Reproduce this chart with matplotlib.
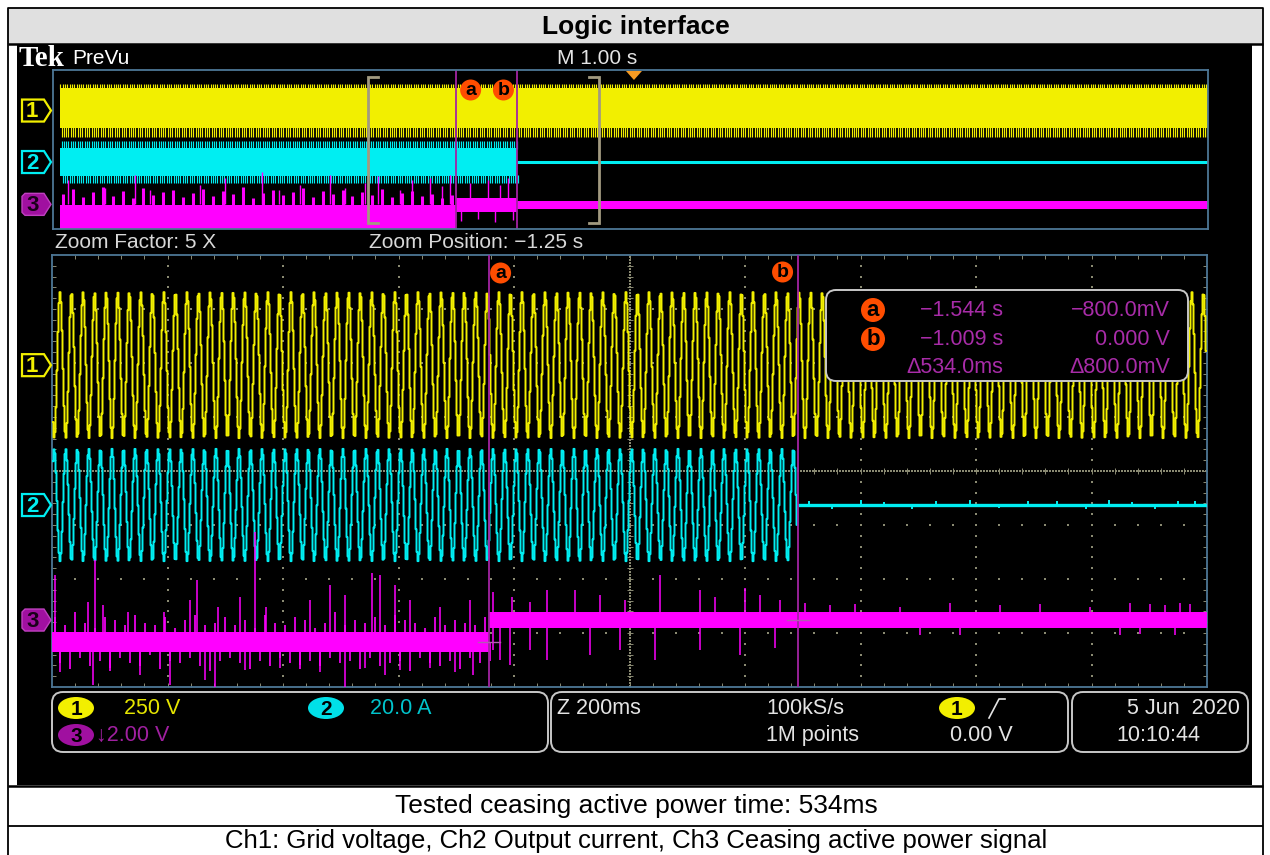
import numpy as np
import matplotlib
matplotlib.use("Agg")
import matplotlib.pyplot as plt
from matplotlib.patches import Rectangle, FancyBboxPatch, Polygon, Circle, Ellipse
from matplotlib.collections import LineCollection

# ===================== data =====================
title_text = "Logic interface"
result_text = "Tested ceasing active power time: 534ms"
caption_text = "Ch1: Grid voltage, Ch2 Output current, Ch3 Ceasing active power signal"

channel_names = ["1", "2", "3"]
channel_scale_texts = ["250 V", "20.0 A", "\u21932.00 V"]
volts_per_div = [250.0, 20.0, 2.0]
channel_offset_div = [1.96, -0.63, -2.76]

grid_freq_hz = 50.0
ch1_peak_v = 338.0
ch1_phase_deg = -160.0
ch2_peak_a = 20.8
ch2_phase_deg = 20.0
ch2_after_a = 0.0
ch3_level_before_v = -0.8
ch3_level_after_v = 0.0

record_span_s = [-4.97, 4.97]
prevu_span_s = [-5.03, 4.97]
zoom_span_s = [-2.30, -0.30]
trigger_time_s = 0.0

cursor_times_s = [-1.544, -1.009]
cursor_levels_v = [-0.800, 0.000]
cursor_labels = ["a", "b"]
readout_times = ["\u22121.544 s", "\u22121.009 s", "\u0394534.0ms"]
readout_levels = ["\u2212800.0mV", "0.000 V", "\u0394800.0mV"]

timebase_text = "M 1.00 s"
zoom_factor_text = "Zoom Factor: 5 X"
zoom_position_text = "Zoom Position: \u22121.25 s"
horiz_texts = ["Z 200ms", "100kS/s", "1M points"]
trigger_level_text = "0.00 V"
date_text = "5 Jun  2020"
clock_text = "10:10:44"

# ch2 residual after cease (zoomed view), small bumps (A)
ch2_tail_t = [-0.99, -0.95, -0.90, -0.86, -0.81, -0.77, -0.71, -0.66, -0.61, -0.56,
              -0.51, -0.47, -0.43, -0.39, -0.35, -0.32]
ch2_tail_a = [1.6, -1.4, 1.8, 1.2, -1.6, 1.5, 1.8, -1.2, 1.6, 1.4, -1.5, 1.7, 1.3, -1.4, 1.6, 1.5]

# ch3 zoomed view: band half widths (V) before / after cursor a
main_ch3_band_v = [0.37, 0.30]
# ch3 zoomed view fuzz before cursor a (V above / below level)
main_fuzz_up_v = [0.9, 0.6, 1.1, 0.7, 0.5, 0.9, 0.8, 0.6, 1.0, 0.7, 0.6, 0.9, 0.5, 0.8, 1.0,
                  0.6, 0.7, 0.9, 0.6, 0.8, 0.5, 1.0, 0.7, 0.6, 0.9, 0.8, 0.5, 0.7, 1.1, 0.6,
                  0.8, 0.7, 0.9, 0.6, 1.0, 0.8, 0.7, 0.5, 0.9, 0.6, 0.8, 0.7, 0.6, 0.9]
main_fuzz_dn_v = [0.8, 1.0, 0.6, 0.9, 0.7, 1.1, 0.6, 0.8, 0.9, 0.5, 1.0, 0.7, 0.8, 0.6, 0.9,
                  1.1, 0.7, 0.6, 0.8, 1.0, 0.7, 0.9, 0.6, 0.8, 1.0, 0.7, 0.9, 0.6, 0.8, 0.7,
                  1.0, 0.6, 0.9, 0.8, 0.7, 1.1, 0.6, 0.8, 0.9, 0.7, 1.0, 0.6, 0.8, 0.7]
# ch3 zoomed view spikes (time s, peak V)
main_up_t = [-2.295, -2.238, -2.226, -2.212, -2.168, -2.106, -2.061, -2.049, -2.013, -1.974,
             -1.948, -1.929, -1.853, -1.819, -1.793, -1.746, -1.732, -1.706, -1.680, -1.628,
             -1.576,
             -1.536, -1.504, -1.472, -1.443, -1.394, -1.351, -1.308, -1.247, -1.178, -1.152,
             -1.100, -1.074, -1.039,
             -0.996, -0.953, -0.910, -0.832, -0.745, -0.658, -0.589, -0.503, -0.433, -0.399,
             -0.373, -0.347, -0.329]
main_up_v = [1.67, 0.67, 2.22, 0.56, 0.30, 0.30, 0.74, 1.48, 0.48, 0.85,
             3.26, 0.48, 0.74, 1.30, 0.93, 1.74, 1.67, 1.30, 0.74, 0.48,
             0.74,
             1.04, 0.85, 0.67, 1.11, 1.11, 0.93, 0.74, 1.67, 1.11, 0.85,
             1.19, 0.93, 0.74,
             0.63, 0.55, 0.60, 0.50, 0.63, 0.55, 0.60, 0.50, 0.63, 0.60,
             0.55, 0.63, 0.60]
main_dn_t = [-2.286, -2.229, -2.200, -2.148, -2.096, -2.035, -2.018, -1.966, -1.905, -1.871,
             -1.836, -1.793, -1.758, -1.723, -1.697, -1.645, -1.602, -1.571,
             -1.536, -1.524, -1.507, -1.472, -1.443, -1.368, -1.317, -1.256, -1.178, -1.109,
             -1.048,
             -0.797, -0.728, -0.451, -0.416, -0.355]
main_dn_v = [-1.93, -2.41, -1.78, -2.04, -2.41, -2.22, -2.48, -1.85, -1.78, -1.67,
             -1.93, -2.59, -1.78, -2.04, -1.85, -1.78, -1.93, -2.04,
             -1.11, -1.48, -1.67, -1.11, -1.48, -1.30, -1.11, -1.48, -1.11, -1.30,
             -1.04,
             -0.55, -0.55, -0.55, -0.50, -0.55]

# ch3 PreVu view (V)
prevu_ch3_core_v = [[-2.5, -0.1], [-0.75, 0.6], [-0.45, 0.35]]
prevu_ch3_top_v = [1.0, 1.5, 0.7, 1.2, 1.7, 0.8, 1.3, 0.6, 1.6, 0.9, 1.2, 1.4, 0.7, 1.1, 1.5,
                   0.8, 1.3, 1.0, 1.7, 0.6, 1.1, 1.4, 0.9, 1.2, 1.6, 0.7, 1.3, 1.0, 1.4, 0.8,
                   1.2, 0.9, 1.5, 0.7, 1.1, 1.3, 0.8, 1.0, 0.6, 0.9]
prevu_spk_t = [-4.90, -4.58, -4.32, -4.19, -3.76, -3.54, -3.22, -3.07, -2.89, -2.63, -2.50,
               -2.33, -2.22, -2.03, -1.92, -1.77, -1.66, -1.59, -1.42, -1.26, -1.16, -1.09]
prevu_spk_v = [2.45, 1.64, 2.95, 1.44, 1.94, 2.65, 3.25, 1.44, 1.94, 2.95, 1.64,
               2.15, 2.85, 1.44, 2.45, 2.65, 1.84, 2.95, 2.15, 2.45, 1.94, 2.65]
prevu_dn_t = [-1.50, -1.35, -1.20, -1.05]
prevu_dn_v = [-1.7, -1.5, -1.8, -1.6]

# ===================== layout / style =====================
W, H = 1270, 855
MAIN = (52, 255, 1207, 687)
PV = (53, 70, 1208, 229)

YELLOW = "#f2ef00"
CYAN = "#00eef2"
MAGENTA = "#ff00ff"
PURPLE = "#a324a3"
ORANGE = "#ff4d00"
FRAME = "#4d7796"
GRID = "#8a8a72"
TXT = "#e4e4e4"
FONT = ["Liberation Sans", "DejaVu Sans"]
SERIF = ["Liberation Serif", "DejaVu Serif"]
TFS = 15          # scope text size
BFS = 19          # table text size

fig = plt.figure(figsize=(W / 100, H / 100), dpi=100, facecolor="white")


def rect(box):
    l, t, r, b = box
    return [l / W, 1 - b / H, (r - l) / W, (b - t) / H]


def pix_axes(z):
    ax = fig.add_axes([0, 0, 1, 1], zorder=z)
    ax.set_xlim(0, W)
    ax.set_ylim(H, 0)
    ax.axis("off")
    ax.patch.set_alpha(0)
    return ax


def mx(t):
    return MAIN[0] + (t - zoom_span_s[0]) / (zoom_span_s[1] - zoom_span_s[0]) * (MAIN[2] - MAIN[0])


def my(d):
    return (MAIN[1] + MAIN[3]) / 2 - d * (MAIN[3] - MAIN[1]) / 8


def pxx(t):
    return PV[0] + (t - prevu_span_s[0]) / (prevu_span_s[1] - prevu_span_s[0]) * (PV[2] - PV[0])


def pyy(d):
    return (PV[1] + PV[3]) / 2 - d * (PV[3] - PV[1]) / 8


# ---------------- background: table + scope screen + graticule ----------------
bg = pix_axes(0)
bg.add_patch(Rectangle((8, 8), 1255, 36, fc="#e0e0e0", ec="none"))
bg.add_patch(Rectangle((17, 45), 1235, 740, fc="black", ec="none"))
for yy, lw in [(44, 1.8), (786, 1.8), (826, 1.3)]:
    bg.plot([8, 1263], [yy, yy], color="black", lw=lw, solid_capstyle="butt")
bg.plot([8, 8, 1263, 1263], [900, 8, 8, 900], color="black", lw=1.3)
bg.text(636, 27, title_text, ha="center", va="center", fontsize=BFS, fontweight="bold",
        family=FONT, color="black")
bg.text(636, 806, result_text, ha="center", va="center", fontsize=BFS, family=FONT, color="black")
bg.text(636, 841, caption_text, ha="center", va="center", fontsize=BFS - 0.5, family=FONT, color="black")

gx = np.linspace(MAIN[0], MAIN[2], 11)
gy = np.linspace(MAIN[1], MAIN[3], 9)
minor_x = np.linspace(MAIN[0], MAIN[2], 51)
minor_y = np.linspace(MAIN[1], MAIN[3], 41)
pts = []
for x in gx[1:-1]:
    if x != gx[5]:
        pts += [(x, y) for y in minor_y[1:-1]]
for y in gy[1:-1]:
    if y != gy[4]:
        pts += [(x, y) for x in minor_x[1:-1]]
pts += [(x, gy[4]) for x in np.arange(MAIN[0] + 2, MAIN[2], 3.0)]
pts += [(gx[5], y) for y in np.arange(MAIN[1] + 2, MAIN[3], 3.0)]
pts = np.array(pts)
bg.scatter(pts[:, 0], pts[:, 1], s=1.3, c=GRID, marker="s", linewidths=0, zorder=2)
segs = []
for x in minor_x[1:-1]:
    segs.append([(x, gy[4] - 3), (x, gy[4] + 3)])
    segs.append([(x, MAIN[1]), (x, MAIN[1] + 4)])
    segs.append([(x, MAIN[3] - 4), (x, MAIN[3])])
for y in minor_y[1:-1]:
    segs.append([(gx[5] - 3, y), (gx[5] + 3, y)])
    segs.append([(MAIN[0], y), (MAIN[0] + 4, y)])
    segs.append([(MAIN[2] - 4, y), (MAIN[2], y)])
bg.add_collection(LineCollection(segs, colors=GRID, linewidths=0.7, zorder=2))

# ---------------- zoomed (main) view ----------------
am = fig.add_axes(rect(MAIN), zorder=1)
am.set_xlim(zoom_span_s)
am.set_ylim(-4, 4)
am.patch.set_alpha(0)
am.set_xticks([])
am.set_yticks([])
for s in am.spines.values():
    s.set_color(FRAME)
    s.set_linewidth(1.3)

f = grid_freq_hz
A1 = ch1_peak_v / volts_per_div[0]
A2 = ch2_peak_a / volts_per_div[1]
o1, o2, o3 = channel_offset_div
ta, tb = cursor_times_s
ph1 = np.radians(ch1_phase_deg)
ph2 = np.radians(ch2_phase_deg)

dt = (zoom_span_s[1] - zoom_span_s[0]) / (MAIN[2] - MAIN[0])
tm = np.arange(zoom_span_s[0] + dt, zoom_span_s[1], dt)
am.plot(tm, o1 + A1 * np.sin(2 * np.pi * f * tm + ph1), color=YELLOW, lw=1.4,
        drawstyle="steps-mid", zorder=3)
mk = tm < tb
y2 = o2 + A2 * np.sin(2 * np.pi * f * tm[mk] + ph2)
am.plot(np.r_[tm[mk], tb], np.r_[y2, o2 + ch2_after_a / volts_per_div[1]], color=CYAN, lw=1.4,
        drawstyle="steps-mid", zorder=3)
am.plot([tb, zoom_span_s[1]], [o2, o2], color=CYAN, lw=2.4, solid_capstyle="butt", zorder=3)
am.vlines(ch2_tail_t, o2, o2 + np.array(ch2_tail_a) / volts_per_div[1], color=CYAN, lw=1.4, zorder=3)

s3 = volts_per_div[2]
lv_b = o3 + ch3_level_before_v / s3
lv_a = o3 + ch3_level_after_v / s3
bb = main_ch3_band_v[0] / s3
ba = main_ch3_band_v[1] / s3
am.fill_between([zoom_span_s[0], ta], lv_b - bb, lv_b + bb, color=MAGENTA, lw=0, zorder=3)
am.fill_between([ta, zoom_span_s[1]], lv_a - ba, lv_a + ba, color=MAGENTA, lw=0, zorder=3)
tf = np.linspace(zoom_span_s[0] + 0.006, ta - 0.006, len(main_fuzz_up_v))
half = (tf[1] - tf[0]) / 2
am.vlines(tf, lv_b, lv_b + np.array(main_fuzz_up_v) / s3, color=MAGENTA, lw=1.2, zorder=3)
am.vlines(tf + half, lv_b, lv_b - np.array(main_fuzz_dn_v) / s3, color=MAGENTA, lw=1.2, zorder=3)
up_t = np.array(main_up_t)
up_base = np.where(up_t < ta, lv_b, lv_a)
am.vlines(up_t, up_base, o3 + np.array(main_up_v) / s3, color=MAGENTA, lw=1.1, zorder=3)
dn_t = np.array(main_dn_t)
dn_base = np.where(dn_t < ta, lv_b, lv_a)
am.vlines(dn_t, dn_base, o3 + np.array(main_dn_v) / s3, color=MAGENTA, lw=1.1, zorder=3)

for tc, vc in zip(cursor_times_s, cursor_levels_v):
    am.axvline(tc, color=PURPLE, lw=1.3, zorder=4)
    w = 11 / 577.5
    am.plot([tc - w, tc + w], [o3 + vc / s3] * 2, color="#b45ab4", lw=1.0, zorder=4)

# ---------------- PreVu view ----------------
ap = fig.add_axes(rect(PV), zorder=1)
ap.set_xlim(prevu_span_s)
ap.set_ylim(-4, 4)
ap.patch.set_alpha(0)
ap.set_xticks([])
ap.set_yticks([])
for s in ap.spines.values():
    s.set_color(FRAME)
    s.set_linewidth(1.3)

t0r, t1r = record_span_s


def peak_times(phase_deg, t0, t1):
    c = 0.25 - phase_deg / 360.0
    k = np.arange(np.ceil(t0 * f - c), np.floor(t1 * f - c) + 1)
    return (k + c) / f


fr1t, fr1b = 0.22, 0.45
ap.fill_between([t0r, t1r], o1 - A1 + fr1b, o1 + A1 - fr1t, color=YELLOW, lw=0)
tp1 = peak_times(ch1_phase_deg, t0r, t1r)
ap.vlines(tp1, o1 + A1 - fr1t - 0.05, o1 + A1, color=YELLOW, lw=0.85)
ap.vlines(tp1 + 0.5 / f, o1 - A1, o1 - A1 + fr1b + 0.05, color=YELLOW, lw=0.85)

fr2 = 0.35
ap.fill_between([t0r, tb], o2 - A2 + fr2, o2 + A2 - fr2, color=CYAN, lw=0)
tp2 = peak_times(ch2_phase_deg, t0r, tb)
ap.vlines(tp2, o2 + A2 - fr2 - 0.05, o2 + A2, color=CYAN, lw=0.85)
ap.vlines(tp2 + 0.5 / f, o2 - A2, o2 - A2 + fr2 + 0.05, color=CYAN, lw=0.85)
ap.plot([tb, t1r], [o2, o2], color=CYAN, lw=2.2, solid_capstyle="butt")

cb, ca, cc = prevu_ch3_core_v
ap.fill_between([t0r, ta], o3 + cb[0] / s3, o3 + cb[1] / s3, color=MAGENTA, lw=0)
ap.fill_between([ta, tb], o3 + ca[0] / s3, o3 + ca[1] / s3, color=MAGENTA, lw=0)
ap.fill_between([tb, t1r], o3 + cc[0] / s3, o3 + cc[1] / s3, color=MAGENTA, lw=0)
tpv = np.linspace(t0r + 0.03, ta - 0.03, len(prevu_ch3_top_v))
ap.vlines(tpv, o3 + cb[1] / s3, o3 + np.array(prevu_ch3_top_v) / s3, color=MAGENTA, lw=2.2)
ap.vlines(prevu_spk_t, o3, o3 + np.array(prevu_spk_v) / s3, color=MAGENTA, lw=1.0)
ap.vlines(prevu_dn_t, o3, o3 + np.array(prevu_dn_v) / s3, color=MAGENTA, lw=1.0)

for tc in cursor_times_s:
    ap.axvline(tc, color=PURPLE, lw=1.3)

# zoom brackets
bw = 10 / 115.5
bt, bb2 = 3.65, -3.7
for edge, sgn in [(zoom_span_s[0], 1), (zoom_span_s[1], -1)]:
    ap.plot([edge + sgn * bw, edge, edge, edge + sgn * bw], [bt, bt, bb2, bb2],
            color="#a29a80", lw=2.0, solid_joinstyle="miter")

# ---------------- overlay: labels, markers, readouts ----------------
ov = pix_axes(3)

xt = pxx(trigger_time_s)
ov.add_patch(Polygon([(xt - 8, 71), (xt + 8, 71), (xt, 80)], closed=True, fc="#f59a23", ec="none"))

ov.text(19, 58, "Tek", ha="left", va="center", fontsize=21, fontweight="bold", family=SERIF, color="white")
ov.text(72, 58, "PreVu", ha="left", va="center", fontsize=TFS, family=FONT, color="white")
ov.text(557, 58, timebase_text, ha="left", va="center", fontsize=TFS, family=FONT, color=TXT)
ov.text(55, 242, zoom_factor_text, ha="left", va="center", fontsize=TFS, family=FONT, color="#d8d8d8")
ov.text(369, 242, zoom_position_text, ha="left", va="center", fontsize=TFS, family=FONT, color="#d8d8d8")

ch_colors = [YELLOW, CYAN, "#a010a0"]


def ch_marker(yc, i):
    if i < 2:
        poly = [(22, yc - 11), (44, yc - 11), (51, yc), (44, yc + 11), (22, yc + 11)]
        ov.add_patch(Polygon(poly, closed=True, fc="black", ec=ch_colors[i], lw=1.6))
        ov.text(32, yc + 1, channel_names[i], ha="center", va="center", fontsize=16,
                fontweight="bold", family=FONT, color=ch_colors[i])
    else:
        poly = [(25, yc - 11), (44, yc - 11), (51, yc), (44, yc + 11), (25, yc + 11),
                (22, yc + 8), (22, yc - 8)]
        ov.add_patch(Polygon(poly, closed=True, fc=ch_colors[i], ec="#c040c0", lw=1.0))
        ov.text(33, yc + 1, channel_names[i], ha="center", va="center", fontsize=16,
                fontweight="bold", family=FONT, color="#1a001a")


for i, off in enumerate(channel_offset_div):
    ch_marker(pyy(off), i)
    ch_marker(my(off), i)


def circ_label(x, y, txt, r=10.5, fs=14):
    ov.add_patch(Circle((x, y), r, fc=ORANGE, ec="none"))
    ov.text(x, y + 0.5, txt, ha="center", va="center", fontsize=fs, fontweight="bold",
            family=FONT, color="black")


circ_label(pxx(cursor_times_s[0]) + 15, 90, cursor_labels[0])
circ_label(pxx(cursor_times_s[1]) - 14, 90, cursor_labels[1])
circ_label(mx(cursor_times_s[0]) + 12, 273, cursor_labels[0])
circ_label(mx(cursor_times_s[1]) - 15, 272, cursor_labels[1])

# cursor readout box
ov.add_patch(FancyBboxPatch((826, 290), 362, 91, boxstyle="round,pad=0,rounding_size=10",
                            fc="black", ec="#c8c8c8", lw=1.4))
rows_y = [310, 339, 367]
circ_label(873, rows_y[0], cursor_labels[0], r=12, fs=16)
circ_label(873, rows_y[1], cursor_labels[1], r=12, fs=16)
RC = "#a82ca8"
for yv, tt, lvtxt in zip(rows_y, readout_times, readout_levels):
    ov.text(1003, yv, tt, ha="right", va="center", fontsize=TFS + 0.5, family=FONT, color=RC)
    ov.text(1170, yv, lvtxt, ha="right", va="center", fontsize=TFS + 0.5, family=FONT, color=RC)

# bottom info boxes
for x0, w in [(52, 496), (551, 517), (1072, 176)]:
    ov.add_patch(FancyBboxPatch((x0, 692), w, 60, boxstyle="round,pad=0,rounding_size=11",
                                fc="black", ec="#c8c8c8", lw=1.4))


def badge(x, y, txt, col, tcol="black"):
    ov.add_patch(Ellipse((x, y), 36, 22, fc=col, ec="none"))
    ov.text(x, y + 1, txt, ha="center", va="center", fontsize=15, fontweight="bold",
            family=FONT, color=tcol)


r1, r2 = 708, 735
badge(76, r1, channel_names[0], YELLOW)
ov.text(124, r1, channel_scale_texts[0], ha="left", va="center", fontsize=TFS + 0.5, family=FONT, color="#e6e600")
badge(326, r1, channel_names[1], "#00e0e8")
ov.text(370, r1, channel_scale_texts[1], ha="left", va="center", fontsize=TFS + 0.5, family=FONT, color="#00c4cc")
badge(76, r2, channel_names[2], "#a010a0")
ov.text(96, r2, channel_scale_texts[2], ha="left", va="center", fontsize=TFS + 0.5, family=FONT, color="#a020a0")

ov.text(557, r1, horiz_texts[0], ha="left", va="center", fontsize=TFS + 0.5, family=FONT, color=TXT)
ov.text(766, r1, horiz_texts[1], ha="left", va="center", fontsize=TFS + 0.5, family=FONT, color=TXT)
ov.text(766, r2, horiz_texts[2], ha="left", va="center", fontsize=TFS + 0.5, family=FONT, color=TXT)
badge(957, r1, channel_names[0], YELLOW)
ov.plot([989, 999, 1005], [718, 699, 699], color=TXT, lw=1.2)
ov.text(950, r2, trigger_level_text, ha="left", va="center", fontsize=TFS + 0.5, family=FONT, color=TXT)
ov.text(1240, r1, date_text, ha="right", va="center", fontsize=TFS + 0.5, family=FONT, color=TXT)
ov.text(1116, r2, clock_text, ha="left", va="center", fontsize=TFS + 0.5, family=FONT, color=TXT)

fig.savefig("out.png", dpi=100, facecolor="white")
